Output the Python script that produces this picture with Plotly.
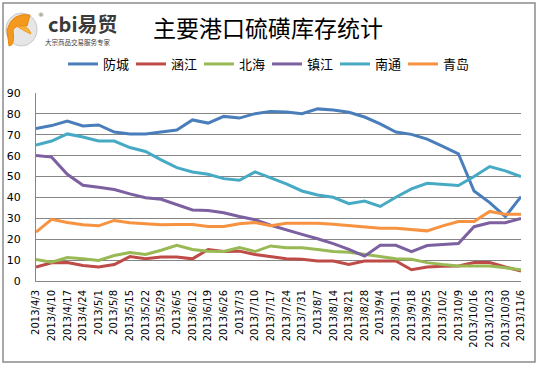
import plotly.graph_objects as go

dates = ["2013/4/3","2013/4/10","2013/4/17","2013/4/24","2013/5/1","2013/5/8","2013/5/15",
         "2013/5/22","2013/5/29","2013/6/5","2013/6/12","2013/6/19","2013/6/26","2013/7/3",
         "2013/7/10","2013/7/17","2013/7/24","2013/7/31","2013/8/7","2013/8/14","2013/8/21",
         "2013/8/28","2013/9/4","2013/9/11","2013/9/18","2013/9/25","2013/10/2","2013/10/9",
         "2013/10/16","2013/10/23","2013/10/30","2013/11/6"]

fangcheng = [73, 74.4, 76.6, 74.2, 74.7, 71.3, 70.4, 70.4, 71.3, 72.3, 77.1, 75.6, 78.8, 78, 80.1, 81.2,
             80.9, 80.1, 82.4, 81.9, 80.8, 78.5, 75.2, 71.3, 70.2, 67.9, 64.4, 60.9, 43.1, 37.5, 30.8, 40.4]
hanjiang = [6.7, 8.7, 8.8, 7.4, 6.7, 7.9, 11.7, 10.7, 11.5, 11.5, 10.6, 15.1, 14.1, 14.3, 12.7, 11.8,
            10.7, 10.4, 9.6, 9.6, 7.9, 9.6, 9.6, 9.6, 5.4, 6.7, 7.1, 7.2, 8.8, 8.8, 6.7, 4.8]
beihai = [10.3, 9, 11.2, 10.7, 9.8, 12.2, 13.6, 12.7, 14.7, 17.1, 15.1, 14.3, 14.1, 16, 14.1, 16.8,
          15.9, 15.9, 15.1, 14.1, 13.8, 12.8, 11.9, 10.7, 10.4, 8.8, 7.9, 7.2, 7.2, 7.2, 6.3, 5.4]
zhenjiang = [60.1, 59.3, 51.1, 45.8, 44.9, 43.8, 41.7, 39.9, 39.1, 36.4, 34, 33.8, 32.7, 30.9, 29.3, 26.7,
             24.4, 22.3, 20.2, 17.9, 15.1, 11.9, 17.1, 17.1, 14.1, 17, 17.5, 17.9, 26, 27.9, 27.9, 30]
nantong = [65.1, 67, 70.4, 68.9, 67, 67, 63.9, 62, 58, 54.3, 52.2, 51.1, 49, 48.2, 52.2, 49.2,
           46.5, 43.1, 41.2, 40.1, 37, 38.3, 35.7, 40.1, 44.1, 46.8, 46.3, 45.7, 50, 54.8, 52.7, 50]
qingdao = [23.4, 29.5, 28, 26.9, 26.4, 29, 27.9, 27.4, 26.9, 27.1, 27.1, 26.1, 26.1, 27.4, 28, 26.5,
           27.6, 27.7, 27.7, 27.2, 26.6, 26.1, 25.2, 25.2, 24.5, 24, 26.4, 28.5, 28.5, 33.3, 31.9, 31.9]

series_names = ["防城", "涵江", "北海", "镇江", "南通", "青岛"]
series_values = [fangcheng, hanjiang, beihai, zhenjiang, nantong, qingdao]
colors = ["#4A7EBB", "#BE4B48", "#98B954", "#7D60A0", "#46AAC5", "#F69240"]

title_text = "主要港口硫磺库存统计"
y_ticks = list(range(0, 91, 10))

W, H = 538, 366
L, R, T, B = 36, 17, 93, 85
PW, PH = W - L - R, H - T - B


def px(x):
    return (x - L) / PW


def py(y):
    return (H - B - y) / PH


fig = go.Figure()
idx = list(range(len(dates)))
for name, vals, col in zip(series_names, series_values, colors):
    fig.add_trace(go.Scatter(x=idx, y=vals, mode="lines", name=name,
                             line=dict(color=col, width=3)))

fig.update_layout(
    width=W, height=H,
    margin=dict(l=L, r=R, t=T, b=B, pad=0, autoexpand=False),
    paper_bgcolor="white", plot_bgcolor="white",
    showlegend=True,
    legend=dict(orientation="h", xref="container", yref="container",
                x=63 / W, y=1 - 49 / H, xanchor="left", yanchor="top",
                entrywidth=23, entrywidthmode="pixels",
                font=dict(family="Noto Sans CJK SC", size=13, color="black"),
                bgcolor="rgba(0,0,0,0)", tracegroupgap=0, itemwidth=30),
    font=dict(family="DejaVu Sans", color="black"),
)

fig.update_xaxes(range=[0, len(dates) - 1], tickmode="array", tickvals=idx, ticktext=dates,
                 tickangle=-90, tickfont=dict(family="DejaVu Sans", size=10, color="black"),
                 showgrid=False, showline=True, linecolor="#868686", linewidth=1,
                 ticks="", automargin=False, zeroline=False, ticklabelstandoff=4)
fig.update_yaxes(range=[0, 90], tickmode="array", tickvals=y_ticks,
                 tickfont=dict(family="DejaVu Sans", size=11, color="black"),
                 showgrid=True, gridcolor="#868686", gridwidth=1,
                 showline=True, linecolor="#868686", linewidth=1,
                 ticks="", automargin=False, zeroline=False, ticklabelstandoff=12)

shapes = []
# outer border
shapes.append(dict(type="rect", xref="paper", yref="paper",
                   x0=px(3), x1=px(535), y0=py(3), y1=py(362),
                   line=dict(color="#8C8C8C", width=1.5), fillcolor="rgba(0,0,0,0)", layer="below"))
# logo icon: gray disc
shapes.append(dict(type="circle", xref="paper", yref="paper",
                   x0=px(6), x1=px(37), y0=py(13), y1=py(46),
                   line=dict(color="#C8C8C8", width=1), fillcolor="#E6E6E6"))


def P(x, y):
    return px(x), py(y)


pts = [P(30, 15), P(12, 12), P(7, 30), P(9, 46), P(15, 46), P(13, 30),
       P(16, 24), P(27, 26), P(30, 33)]
d = "M {},{} Q {},{} {},{} L {},{} Q {},{} {},{} Q {},{} {},{} Z".format(
    *pts[0], *pts[1], *pts[2], *pts[3], *pts[4], *pts[5], *pts[6], *pts[7], *pts[8])
shapes.append(dict(type="path", xref="paper", yref="paper", path=d,
                   fillcolor="#F39A1E", line=dict(color="#E8860F", width=1)))
d2 = "M {},{} Q {},{} {},{} Q {},{} {},{} Z".format(
    *P(18, 27), *P(28, 24), *P(31, 34), *P(24, 31), *P(18, 27))
shapes.append(dict(type="path", xref="paper", yref="paper", path=d2,
                   fillcolor="#F7B53A", line=dict(color="#F39A1E", width=1)))
fig.update_layout(shapes=shapes)

annotations = [
    dict(text=title_text, xref="paper", yref="paper", x=px(268), y=py(27),
         xanchor="center", yanchor="middle", showarrow=False,
         font=dict(family="Noto Sans CJK SC", size=23, color="black")),
    dict(text="<b>cbi易贸</b>", xref="paper", yref="paper", x=px(46), y=py(23),
         xanchor="left", yanchor="middle", showarrow=False,
         font=dict(family="Noto Sans CJK SC", size=20, color="#3A3A3A")),
    dict(text="大宗商品交易服务专家", xref="paper", yref="paper", x=px(78), y=py(42),
         xanchor="center", yanchor="middle", showarrow=False,
         font=dict(family="Noto Sans CJK SC", size=6.5, color="#3A3A3A")),
    dict(text="®", xref="paper", yref="paper", x=px(41), y=py(14),
         xanchor="center", yanchor="middle", showarrow=False,
         font=dict(family="DejaVu Sans", size=6, color="#555")),
]
fig.update_layout(annotations=annotations)

fig.write_html("out.html", config={"displayModeBar": False},
               post_script="document.body.style.margin='0';document.body.style.padding='0';"
                           "document.documentElement.style.overflow='hidden';")
